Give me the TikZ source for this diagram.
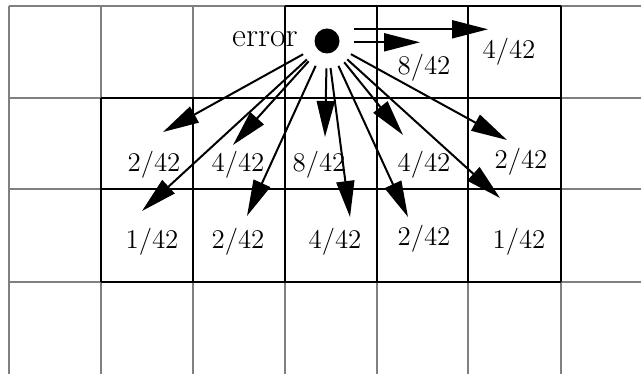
\documentclass[tikz,border=0pt]{standalone}
\usepackage{xcolor}
\usepackage{tikz}
\usetikzlibrary{arrows.meta, positioning, calc}
\definecolor{gridgray}{RGB}{128, 128, 128}

\begin{document}
\begin{tikzpicture}[
    x=0.5pt, y=-0.5pt,
    gridline/.style={draw=gridgray, line width=1.2pt},
    cellline/.style={draw=black, line width=1.2pt},
    weight/.style={font=\fontsize{13.5}{15}\selectfont, inner sep=0pt},
    spread/.style={-{Triangle[length=18pt, width=9pt]}, line width=1pt,
                   shorten <=7.2pt}
]
\useasboundingbox (0,0) rectangle (641,374);

% Background grid
\foreach \x in {9,101,193,285,377,468,561}
    \draw[gridline] (\x,6) -- (\x,374);
\foreach \y in {6,98,189,282}
    \draw[gridline] (9,\y) -- (641,\y);

% Neighbourhood cells
\foreach \x in {285,377,468,561}
    \draw[cellline] (\x,6) -- (\x,98);
\draw[cellline] (285,6) -- (561,6);
\foreach \x in {101,193,285,377,468,561}
    \draw[cellline] (\x,98) -- (\x,282);
\foreach \y in {98,189,282}
    \draw[cellline] (101,\y) -- (561,\y);

% Current pixel
\node[circle, fill=black, minimum size=12.5pt, inner sep=0pt] (dot) at (327,41) {};
\node[font=\fontsize{17}{19}\selectfont, inner sep=0pt] (err) at (265,39) {error};

% Weights
\node[weight] (w8) at (424,68) {8/42};
\node[weight] (w4) at (509,52) {4/42};
\node[weight] (a2) at (154,165) {2/42};
\node[weight] (a4) at (238,165) {4/42};
\node[weight] (a8) at (319,165) {8/42};
\node[weight] (b4) at (424,165) {4/42};
\node[weight] (b2) at (521,162) {2/42};
\node[weight] (c1) at (152,242) {1/42};
\node[weight] (c2) at (238,242) {2/42};
\node[weight] (c4) at (335,242) {4/42};
\node[weight] (d2) at (424,239) {2/42};
\node[weight] (d1) at (519,242) {1/42};

% Arrow tips
\coordinate (tr8) at (420,42.3);
\coordinate (tr4) at (488,29.3);
\coordinate (ta2) at (163,132);
\coordinate (tc1) at (142,211);
\coordinate (ta4) at (233,145);
\coordinate (tc2) at (247,216);
\coordinate (ta8) at (325,137);
\coordinate (tc4) at (350,217);
\coordinate (tb4) at (403,135);
\coordinate (td2) at (408,217);
\coordinate (tb2) at (507,140);
\coordinate (td1) at (500,198);

% Diffusion arrows
\draw[spread] ([yshift=-0.65pt]dot.east) -- (tr8);
\draw[spread] ([yshift=5.85pt]dot.east) -- (tr4);
\foreach \t in {ta2,tc1,ta4,tc2,ta8,tc4,tb4,td2,tb2,td1}
    \draw[spread] (dot) -- (\t);

\end{tikzpicture}
\end{document}
